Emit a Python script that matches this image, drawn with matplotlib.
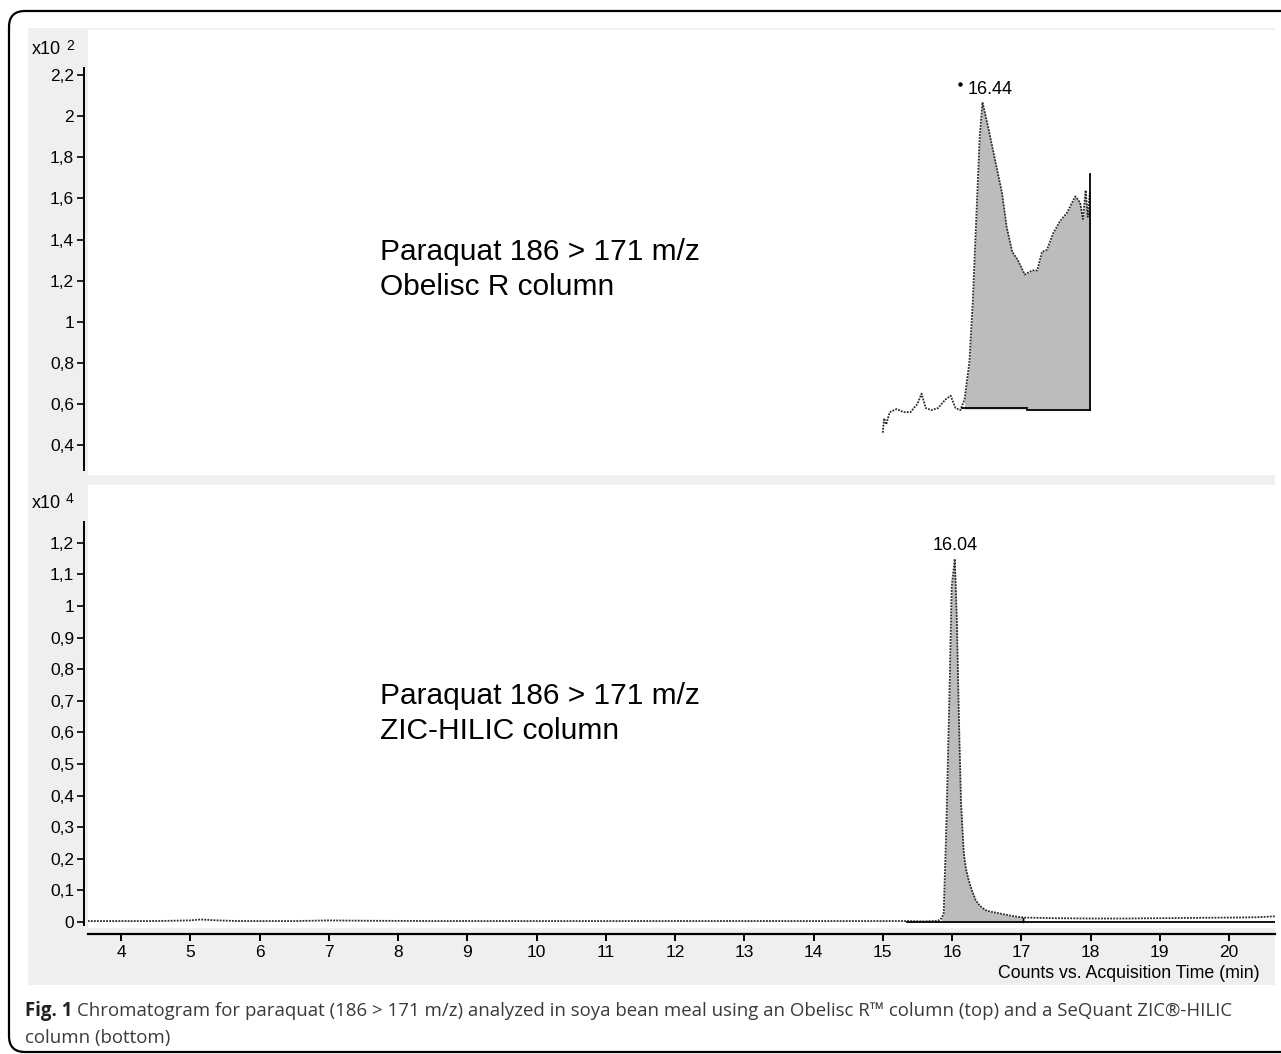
import matplotlib.pyplot as plt
from matplotlib.patches import FancyBboxPatch, Rectangle

# --- data ---
# top trace (Obelisc R), counts x10^2
top_time = [15.00, 15.02, 15.05, 15.10, 15.20, 15.30, 15.40, 15.50, 15.56, 15.62,
            15.70, 15.80, 15.90, 15.98, 16.05, 16.12, 16.18, 16.25, 16.30, 16.35,
            16.40, 16.44, 16.52, 16.62, 16.72, 16.79, 16.87, 16.95, 17.05, 17.16,
            17.23, 17.30, 17.37, 17.46, 17.56, 17.66, 17.78, 17.85, 17.89, 17.93,
            17.96, 17.99]
top_counts = [0.46, 0.53, 0.50, 0.56, 0.575, 0.56, 0.56, 0.60, 0.65, 0.58,
              0.57, 0.58, 0.62, 0.64, 0.58, 0.57, 0.62, 0.80, 1.10, 1.50,
              1.90, 2.068, 1.95, 1.79, 1.63, 1.46, 1.34, 1.30, 1.23, 1.25,
              1.25, 1.34, 1.35, 1.43, 1.49, 1.53, 1.61, 1.58, 1.50, 1.64,
              1.51, 1.63]
top_int_start = 16.15
top_int_end = 17.99
top_int_level = 0.575
top_end_marker = 1.717

# bottom trace (ZIC-HILIC), counts x10^4
bot_time = [3.52, 4.50, 5.00, 5.15, 5.40, 5.70, 6.50, 7.00, 7.50, 8.50,
            10.0, 12.0, 14.0, 15.0, 15.35, 15.60, 15.80, 15.85, 15.88, 15.92,
            15.965, 15.995, 16.04, 16.07, 16.10, 16.13, 16.17, 16.20, 16.24, 16.28,
            16.34, 16.40, 16.48, 16.55, 16.67, 16.80, 16.96, 17.05, 17.50, 18.0,
            18.5, 19.0, 19.5, 20.0, 20.4, 20.66]
bot_counts = [0.003, 0.003, 0.005, 0.008, 0.005, 0.003, 0.003, 0.005, 0.004, 0.003,
              0.003, 0.003, 0.003, 0.003, 0.003, 0.002, 0.004, 0.012, 0.028, 0.32,
              0.74, 1.06, 1.149, 0.955, 0.64, 0.377, 0.218, 0.17, 0.133, 0.105,
              0.07, 0.052, 0.038, 0.033, 0.028, 0.022, 0.016, 0.014, 0.012, 0.011,
              0.011, 0.012, 0.013, 0.014, 0.015, 0.018]
bot_int_start = 15.35
bot_int_end = 17.03

top_yticks = [0.4, 0.6, 0.8, 1.0, 1.2, 1.4, 1.6, 1.8, 2.0, 2.2]
top_ylabels = ["0,4", "0,6", "0,8", "1", "1,2", "1,4", "1,6", "1,8", "2", "2,2"]
bot_yticks = [0, 0.1, 0.2, 0.3, 0.4, 0.5, 0.6, 0.7, 0.8, 0.9, 1.0, 1.1, 1.2]
bot_ylabels = ["0", "0,1", "0,2", "0,3", "0,4", "0,5", "0,6", "0,7", "0,8", "0,9",
               "1", "1,1", "1,2"]
xticks = list(range(4, 21))

W, H = 1281, 1054
plt.rcParams['font.family'] = ['Liberation Sans', 'DejaVu Sans']

fig = plt.figure(figsize=(W / 100, H / 100), dpi=100)


def px_box(x0, y0, x1, y1):
    # pixel box (top-left origin) -> figure fraction rect
    return [x0 / W, 1 - y1 / H, (x1 - x0) / W, (y1 - y0) / H]


# outer frame and grey panel (behind the axes)
fig.add_artist(FancyBboxPatch((9 / 100, (H - 1052) / 100), 13.0, (1052 - 11) / 100,
                              boxstyle="round,pad=0,rounding_size=0.16",
                              transform=fig.dpi_scale_trans, fc='white', ec='black',
                              lw=1.6, zorder=-3))
fig.add_artist(Rectangle((28 / 100, (H - 985) / 100), (1275 - 28) / 100, (985 - 28) / 100,
                         transform=fig.dpi_scale_trans, fc='#efefef', ec='none', zorder=-2))

trace_style = dict(color='#2a2a2a', lw=1.3, ls=(0, (1, 0.7)))
fill_col = '#bcbcbc'
tick_fs = 12.5

# ---------- top panel ----------
ax1 = fig.add_axes(px_box(88, 30, 1275, 475))
ax1.set_xlim(3.5235, 20.664)
ax1.set_ylim(0.254, 2.42)
ax1.plot(top_time, top_counts, **trace_style, zorder=3)
fx = [t for t in top_time if top_int_start <= t <= top_int_end]
fy = [c for t, c in zip(top_time, top_counts) if top_int_start <= t <= top_int_end]
ax1.fill_between(fx, fy, top_int_level, color=fill_col, lw=0, zorder=2)
ax1.plot([top_int_start, 17.08], [top_int_level + 0.005, top_int_level + 0.005], color='black', lw=1.3, zorder=4)
ax1.plot([17.08, top_int_end], [top_int_level - 0.004, top_int_level - 0.004], color='black', lw=1.3, zorder=4)
ax1.plot([top_int_end, top_int_end], [top_int_level - 0.004, top_end_marker], color='black', lw=1.3, zorder=4)

i1 = top_counts.index(max(top_counts))
ax1.annotate(f"{top_time[i1]:.2f}", xy=(top_time[i1], top_counts[i1]), xytext=(-15, 13),
             textcoords='offset pixels', ha='left', va='center', fontsize=13)
ax1.plot([16.12], [2.156], marker='o', ms=2.2, color='black', zorder=4)

ax1.set_yticks(top_yticks)
ax1.set_yticklabels(top_ylabels)
ax1.set_xticks([])
for s in ['top', 'right', 'bottom']:
    ax1.spines[s].set_visible(False)
ax1.spines['left'].set_position(('outward', 3))
ax1.spines['left'].set_bounds(0.278, 2.234)
ax1.spines['left'].set_linewidth(1.4)
ax1.tick_params(axis='y', direction='out', length=5, width=1.2, labelsize=tick_fs, pad=2)

# ---------- bottom panel ----------
ax2 = fig.add_axes(px_box(88, 485, 1275, 928))
ax2.set_xlim(3.5235, 20.664)
ax2.set_ylim(-0.019, 1.383)
ax2.plot(bot_time, bot_counts, **trace_style, zorder=3)
fx = [t for t in bot_time if 15.85 <= t <= bot_int_end + 0.02]
fy = [c for t, c in zip(bot_time, bot_counts) if 15.85 <= t <= bot_int_end + 0.02]
ax2.fill_between(fx, fy, 0, color=fill_col, lw=0, zorder=2)
ax2.plot([bot_int_start, bot_time[-1]], [-0.001, -0.001], color='black', lw=1.3, zorder=4)
ax2.plot([bot_int_end, bot_int_end], [-0.001, 0.014], color='black', lw=1.0, zorder=4)

i2 = bot_counts.index(max(bot_counts))
ax2.annotate(f"{bot_time[i2]:.2f}", xy=(bot_time[i2], bot_counts[i2]), xytext=(0, 13),
             textcoords='offset pixels', ha='center', va='center', fontsize=13)

ax2.set_yticks(bot_yticks)
ax2.set_yticklabels(bot_ylabels)
ax2.set_xticks(xticks)
for s in ['top', 'right']:
    ax2.spines[s].set_visible(False)
ax2.spines['left'].set_position(('outward', 3))
ax2.spines['left'].set_bounds(-0.0095, 1.266)
ax2.spines['left'].set_linewidth(1.4)
ax2.spines['bottom'].set_position(('outward', 4.3))
ax2.spines['bottom'].set_linewidth(1.6)
ax2.tick_params(axis='y', direction='out', length=5, width=1.2, labelsize=tick_fs, pad=2)
ax2.tick_params(axis='x', direction='out', length=5, width=1.4, labelsize=tick_fs, pad=3)

for ax in (ax1, ax2):
    ax.set_facecolor('white')

# scale multipliers
fig.text(32 / W, 1 - 50 / H, "x10", fontsize=13, va='center', ha='left')
fig.text(66 / W, 1 - 46 / H, "2", fontsize=10, va='center', ha='left')
fig.text(32 / W, 1 - 503 / H, "x10", fontsize=13, va='center', ha='left')
fig.text(66 / W, 1 - 499 / H, "4", fontsize=10, va='center', ha='left')

# compound / column annotations
big = 21.5
fig.text(380 / W, 1 - 252 / H, "Paraquat 186 > 171 m/z", fontsize=big, va='center')
fig.text(380 / W, 1 - 287 / H, "Obelisc R column", fontsize=big, va='center')
fig.text(380 / W, 1 - 696 / H, "Paraquat 186 > 171 m/z", fontsize=big, va='center')
fig.text(380 / W, 1 - 731 / H, "ZIC-HILIC column", fontsize=big, va='center')

fig.text(1260 / W, 1 - 973 / H, "Counts vs. Acquisition Time (min)", fontsize=12.8,
         ha='right', va='center')

# caption
cap_font = ['Open Sans', 'DejaVu Sans']
cap_fs = 13.45
t1 = fig.text(25 / W, 1 - 1011 / H, "Fig. 1", fontsize=cap_fs, fontweight='bold',
              family=cap_font, va='center', color='#231f20')
fig.canvas.draw()
bb = t1.get_window_extent(fig.canvas.get_renderer())
fig.text((bb.x1 + 5) / W, 1 - 1011 / H,
         "Chromatogram for paraquat (186 > 171 m/z) analyzed in soya bean meal using an "
         "Obelisc R™ column (top) and a SeQuant ZIC®-HILIC",
         fontsize=cap_fs, family=cap_font, va='center', color='#3a3a3a')
fig.text(25 / W, 1 - 1038 / H, "column (bottom)", fontsize=cap_fs, family=cap_font,
         va='center', color='#3a3a3a')

fig.savefig("out.png", dpi=100)
